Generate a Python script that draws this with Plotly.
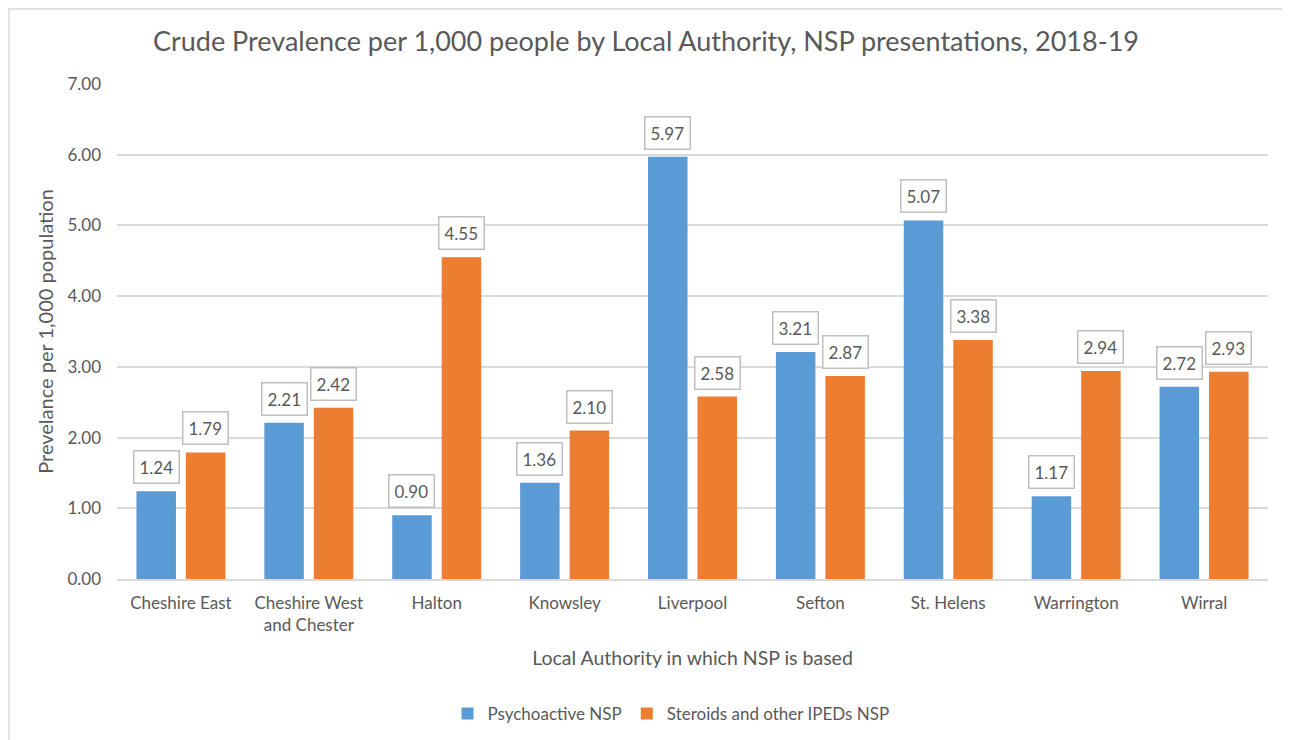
import plotly.graph_objects as go

categories = ["Cheshire East", "Cheshire West<br>and Chester", "Halton", "Knowsley",
              "Liverpool", "Sefton", "St. Helens", "Warrington", "Wirral"]
psychoactive = [1.24, 2.21, 0.90, 1.36, 5.97, 3.21, 5.07, 1.17, 2.72]
steroids = [1.79, 2.42, 4.55, 2.10, 2.58, 2.87, 3.38, 2.94, 2.93]
y_ticks = [0, 1, 2, 3, 4, 5, 6, 7]
y_tick_labels = ["0.00", "1.00", "2.00", "3.00", "4.00", "5.00", "6.00", "7.00"]

TXT = "#595959"
FONT = "Lato"
OFF = 8  # browser body margin
W, H = 1290 - OFF, 740 - OFF
L, T = 117 - OFF, 84 - OFF
R = W - (1268 - OFF)
B = H - (579 - OFF)
PW, PH = W - L - R, H - T - B

fig = go.Figure()
fig.add_trace(go.Bar(x=categories, y=psychoactive, name="Psychoactive NSP",
                     marker=dict(color="#5B9BD5", line=dict(width=0))))
fig.add_trace(go.Bar(x=categories, y=steroids, name="Steroids and other IPEDs NSP",
                     marker=dict(color="#ED7D31", line=dict(width=0))))

ann = []
for vals, shift in ((psychoactive, -24.75), (steroids, 24.75)):
    for c, v in zip(categories, vals):
        ann.append(dict(x=c, y=v, xref="x", yref="y", text=f"{v:.2f}", showarrow=False,
                        xshift=shift, yshift=7, yanchor="bottom", xanchor="center",
                        font=dict(family=FONT, size=17, color=TXT),
                        bgcolor="white", bordercolor="#BFBFBF", borderwidth=1.5,
                        borderpad=5))


def px_x(page_px):
    return (page_px - OFF - L) / PW


def px_y(page_py):
    return (H - B - (page_py - OFF)) / PH


shapes = [
    dict(type="line", xref="paper", yref="paper", x0=px_x(9), x1=px_x(9),
         y0=px_y(8), y1=px_y(760), line=dict(color="#D9D9D9", width=1.5)),
    dict(type="line", xref="paper", yref="paper", x0=px_x(9), x1=px_x(1300),
         y0=px_y(9), y1=px_y(9), line=dict(color="#D9D9D9", width=1.5)),
]

fig.update_layout(
    width=W, height=H,
    margin=dict(l=L, r=R, t=T, b=B, autoexpand=False),
    paper_bgcolor="white", plot_bgcolor="white",
    font=dict(family=FONT, color=TXT),
    barmode="group", bargap=0.226, bargroupgap=0.202,
    title=dict(text="Crude Prevalence per 1,000 people by Local Authority, NSP presentations, 2018-19",
               x=(646 - OFF) / W, xref="container", xanchor="center",
               y=1 - (42 - OFF) / H, yanchor="middle",
               font=dict(family=FONT, size=27, color=TXT)),
    xaxis=dict(showgrid=False, showline=True, linecolor="#D9D9D9", linewidth=1.5,
               ticks="", tickfont=dict(family=FONT, size=17, color=TXT),
               ticklabelstandoff=8,
               title=dict(text="Local Authority in which NSP is based", standoff=17,
                          font=dict(family=FONT, size=19.5, color=TXT))),
    yaxis=dict(range=[0, 7], tickvals=y_ticks, ticktext=y_tick_labels,
               showgrid=True, gridcolor="#D9D9D9", gridwidth=1.5, zeroline=False,
               showline=False, ticks="", ticklabelstandoff=15,
               tickfont=dict(family=FONT, size=17, color=TXT),
               title=dict(text="Prevelance per 1,000 population", standoff=8,
                          font=dict(family=FONT, size=20, color=TXT))),
    legend=dict(orientation="h", x=px_x(671), xanchor="center", y=px_y(714), yanchor="middle",
                font=dict(family=FONT, size=17, color=TXT), itemwidth=30,
                traceorder="normal"),
    annotations=ann,
    shapes=shapes,
)

fig.write_html("out.html")
